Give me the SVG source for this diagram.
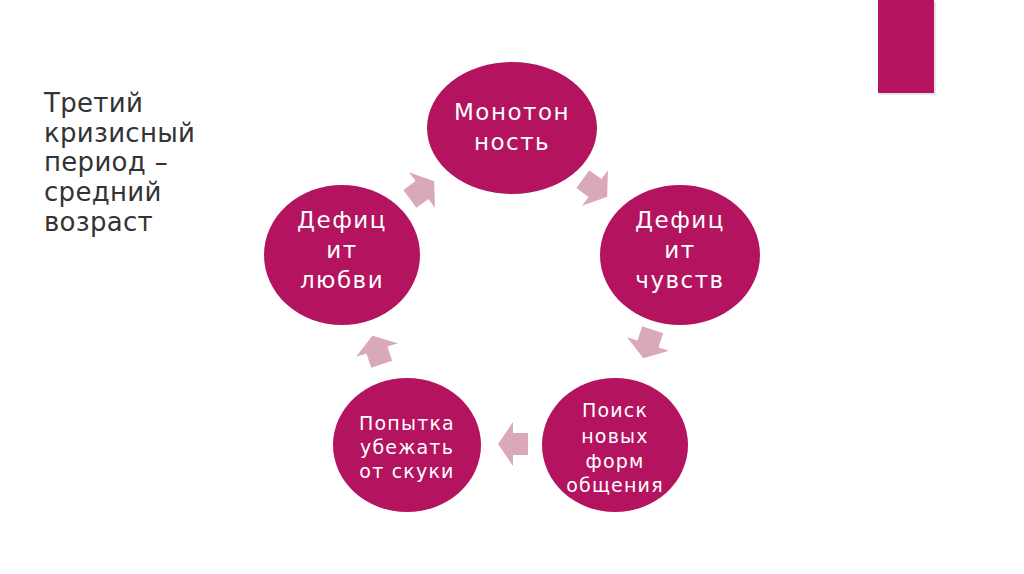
<svg xmlns="http://www.w3.org/2000/svg" width="1024" height="574" viewBox="0 0 1024 574">
<defs>
<style>
.node{fill:#B3135F}
.nt{fill:#fff;font-family:"DejaVu Sans","Liberation Sans",sans-serif;text-anchor:middle}
.big{font-size:23px;letter-spacing:1.5px}
.sm{font-size:19px;letter-spacing:1.2px}
.arr{fill:#D9A8BA}
.title{fill:#333;font-family:"DejaVu Sans","Liberation Sans",sans-serif;font-size:26px;letter-spacing:0.3px}
</style>
<path id="ar" d="M-15,-11 H0 V-22 L15,0 L0,22 V11 H-15 Z"/>
</defs>
<rect width="1024" height="574" fill="#fff"/>
<rect x="880" y="2" width="56" height="93" fill="#999" opacity="0.25"/>
<rect x="878" y="0" width="56" height="93" fill="#B5135F"/>
<g id="title">
<text class="title" x="44" y="112">Третий</text>
<text class="title" x="44" y="142">кризисный</text>
<text class="title" x="44" y="171">период –</text>
<text class="title" x="44" y="201">средний</text>
<text class="title" x="44" y="231">возраст</text>
</g>
<g id="connectors">
<use href="#ar" class="arr" transform="translate(422,190) rotate(-36)"/>
<use href="#ar" class="arr" transform="translate(595,188) rotate(36)"/>
<use href="#ar" class="arr" transform="translate(648,344) rotate(108)"/>
<use href="#ar" class="arr" transform="translate(513,444) rotate(180)"/>
<use href="#ar" class="arr" transform="translate(377,350) rotate(252)"/>
</g>
<g id="n1">
<ellipse class="node" cx="512" cy="128" rx="85" ry="66"/>
<text class="nt big" x="512" y="120">Монотон</text>
<text class="nt big" x="512" y="150">ность</text>
</g>
<g id="n2">
<ellipse class="node" cx="680" cy="255" rx="80" ry="70"/>
<text class="nt big" x="680" y="228">Дефиц</text>
<text class="nt big" x="680" y="258">ит</text>
<text class="nt big" x="680" y="288">чувств</text>
</g>
<g id="n3">
<ellipse class="node" cx="615" cy="445" rx="73" ry="67"/>
<text class="nt sm" x="615" y="417">Поиск</text>
<text class="nt sm" x="615" y="443">новых</text>
<text class="nt sm" x="615" y="468">форм</text>
<text class="nt sm" x="615" y="492">общения</text>
</g>
<g id="n4">
<ellipse class="node" cx="407" cy="445" rx="74" ry="67"/>
<text class="nt sm" x="407" y="430">Попытка</text>
<text class="nt sm" x="407" y="454">убежать</text>
<text class="nt sm" x="407" y="478">от скуки</text>
</g>
<g id="n5">
<ellipse class="node" cx="342" cy="255" rx="78" ry="70"/>
<text class="nt big" x="342" y="228">Дефиц</text>
<text class="nt big" x="342" y="258">ит</text>
<text class="nt big" x="342" y="288">любви</text>
</g>
</svg>
